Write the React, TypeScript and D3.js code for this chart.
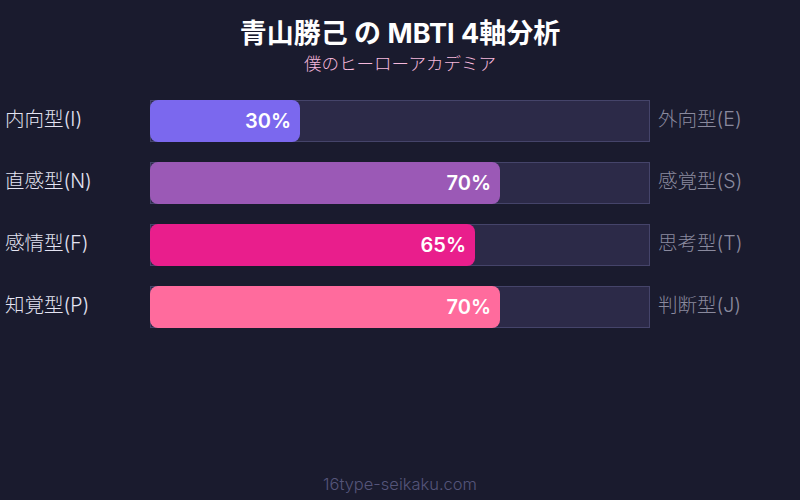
import React from 'react';
import * as d3 from 'd3';

const leftLabels = ['内向型(I)', '直感型(N)', '感情型(F)', '知覚型(P)'];
const rightLabels = ['外向型(E)', '感覚型(S)', '思考型(T)', '判断型(J)'];
const values = [30, 70, 65, 70];
const barColors = ['#7b68ee', '#9b59b6', '#e91e8c', '#ff6b9d'];

const W = 800;
const H = 500;
const FONT = "Inter, 'Noto Sans CJK JP', sans-serif";

export default function App() {
  const x = d3.scaleLinear().domain([0, 100]).range([150, 650]);
  const rowStep = 62;
  const bh = 42;

  return (
    <svg width={W} height={H} style={{display: 'block', position: 'absolute', left: 0, top: 0}}>
      <rect width={W} height={H} fill="#1a1b2e" />
      <text x={W / 2} y={43} textAnchor="middle" fill="#ffffff" fontSize={27} fontWeight={700} fontFamily={FONT}>
        青山勝己 の MBTI 4軸分析
      </text>
      <text x={W / 2} y={69.5} textAnchor="middle" fill="#f5b8dc" fontSize={17.5} fontWeight={300} fontFamily={FONT}>
        僕のヒーローアカデミア
      </text>
      {values.map((v, i) => {
        const y0 = 100 + i * rowStep;
        return (
          <g key={i}>
            <rect x={x(0) + 0.5} y={y0 + 0.5} width={x(100) - x(0) - 1} height={bh - 1} fill="#2c2a48" stroke="#45446a" strokeWidth={1} />
            <rect x={x(0)} y={y0} width={x(v) - x(0)} height={bh} rx={8} fill={barColors[i]} />
            <text x={x(v) - 9} y={y0 + bh / 2 + 7} textAnchor="end" fill="#ffffff" fontSize={20} fontWeight={600} fontFamily={FONT}>
              {v}%
            </text>
            <text x={5} y={y0 + bh / 2 + 5} fill="#e4e4f2" fontSize={19.5} fontWeight={300} fontFamily={FONT}>
              {leftLabels[i]}
            </text>
            <text x={658} y={y0 + bh / 2 + 5} fill="#8a8a9e" fontSize={19.5} fontWeight={300} fontFamily={FONT}>
              {rightLabels[i]}
            </text>
          </g>
        );
      })}
      <text x={W / 2} y={490} textAnchor="middle" fill="#55557a" fontSize={16.5} fontWeight={300} fontFamily={FONT}>
        16type-seikaku.com
      </text>
    </svg>
  );
}
